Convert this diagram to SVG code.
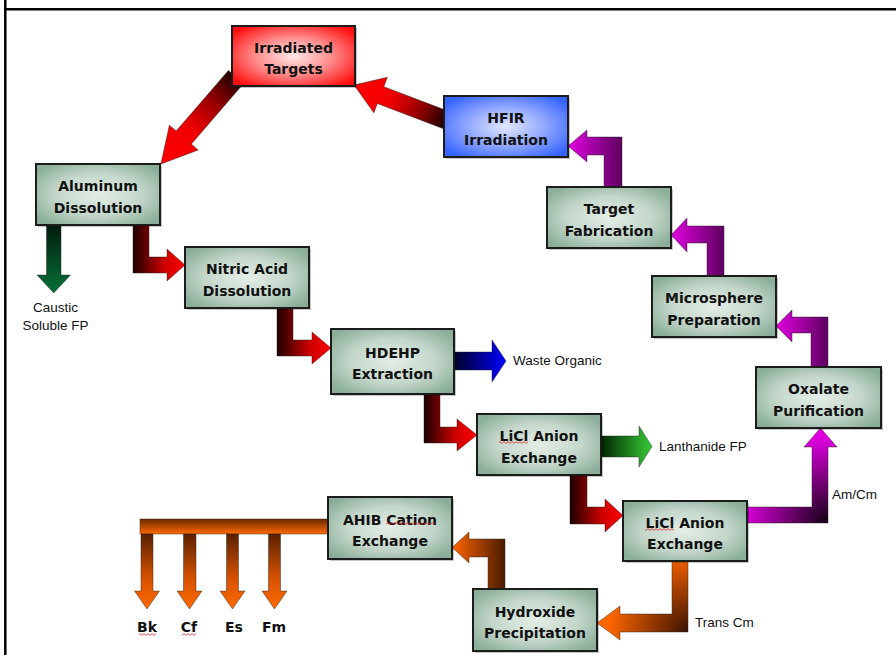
<svg xmlns="http://www.w3.org/2000/svg" width="896" height="655" viewBox="0 0 896 655">
<defs>
  <radialGradient id="gNode" cx="0.5" cy="0.5" r="0.62">
    <stop offset="0" stop-color="#e4ede7"/>
    <stop offset="0.55" stop-color="#c4d7cb"/>
    <stop offset="1" stop-color="#8aae99"/>
  </radialGradient>
  <radialGradient id="gRed" cx="0.5" cy="0.5" r="0.62">
    <stop offset="0" stop-color="#ffe8e8"/>
    <stop offset="0.5" stop-color="#ff8c8c"/>
    <stop offset="1" stop-color="#ff1010"/>
  </radialGradient>
  <radialGradient id="gBlue" cx="0.5" cy="0.5" r="0.62">
    <stop offset="0" stop-color="#e2e8ff"/>
    <stop offset="0.5" stop-color="#93a9ff"/>
    <stop offset="1" stop-color="#3563ff"/>
  </radialGradient>
  <linearGradient id="gRedArrow" x1="0" y1="0" x2="1" y2="0">
    <stop offset="0" stop-color="#1e0000"/>
    <stop offset="0.6" stop-color="#cc0000"/>
    <stop offset="1" stop-color="#ff0000"/>
  </linearGradient>
  <linearGradient id="gRedBig" x1="0" y1="0" x2="1" y2="0">
    <stop offset="0" stop-color="#200000"/>
    <stop offset="0.3" stop-color="#9a0000"/>
    <stop offset="0.6" stop-color="#f00000"/>
    <stop offset="1" stop-color="#ff0000"/>
  </linearGradient>
  <linearGradient id="gGreenDown" x1="0" y1="0" x2="0" y2="1">
    <stop offset="0" stop-color="#001a0c"/>
    <stop offset="1" stop-color="#077038"/>
  </linearGradient>
  <linearGradient id="gBlueArrow" x1="0" y1="0" x2="1" y2="0">
    <stop offset="0" stop-color="#000028"/>
    <stop offset="1" stop-color="#0000ff"/>
  </linearGradient>
  <linearGradient id="gGreenArrow" x1="0" y1="0" x2="1" y2="0">
    <stop offset="0" stop-color="#002200"/>
    <stop offset="1" stop-color="#36cc36"/>
  </linearGradient>
  <linearGradient id="gMagLeft" x1="0" y1="0" x2="1" y2="0">
    <stop offset="0" stop-color="#e000e0"/>
    <stop offset="1" stop-color="#5e005e"/>
  </linearGradient>
  <radialGradient id="gMagRad" gradientUnits="userSpaceOnUse" cx="828" cy="523" r="85">
    <stop offset="0" stop-color="#120012"/>
    <stop offset="1" stop-color="#dd00dd"/>
  </radialGradient>
  <radialGradient id="gOrRad" gradientUnits="userSpaceOnUse" cx="688" cy="632" r="80">
    <stop offset="0" stop-color="#3a1200"/>
    <stop offset="1" stop-color="#ff6600"/>
  </radialGradient>
  <linearGradient id="gOrLeft" x1="0" y1="0" x2="1" y2="0">
    <stop offset="0" stop-color="#ff6600"/>
    <stop offset="1" stop-color="#4a1a00"/>
  </linearGradient>
  <linearGradient id="gOrDown" x1="0" y1="0" x2="0" y2="1">
    <stop offset="0" stop-color="#5a2000"/>
    <stop offset="0.6" stop-color="#d85200"/>
    <stop offset="1" stop-color="#ff6a00"/>
  </linearGradient>
  <linearGradient id="gOrBar" x1="0" y1="0" x2="0" y2="1">
    <stop offset="0" stop-color="#6a2800"/>
    <stop offset="1" stop-color="#ff6a00"/>
  </linearGradient>
  <pattern id="squig" patternUnits="userSpaceOnUse" x="0" y="0" width="4" height="3">
    <path d="M0,0.6 L2,2.4 L4,0.6" fill="none" stroke="#e02020" stroke-width="0.8"/>
  </pattern>
  <style>
    .arr { stroke: #222; stroke-opacity: 0.55; stroke-width: 0.8; stroke-linejoin: miter; }
    .box { stroke: #1c1c1c; stroke-width: 2; }
    .shadow { fill: #000; opacity: 0.22; }
    .nt { font-family: "DejaVu Sans", Verdana, sans-serif; font-weight: bold; font-size: 14px; fill: #111; text-anchor: middle; }
    .lbl { font-family: "Liberation Sans", Arial, sans-serif; font-size: 13.5px; fill: #111; }
    .frame { stroke: #000; stroke-width: 2.5; fill: none; }
  </style>
</defs>

<rect x="0" y="0" width="896" height="655" fill="#fff"/>
<line class="frame" x1="5.3" y1="0" x2="5.3" y2="655"/>
<line class="frame" x1="4" y1="9.2" x2="896" y2="9.2"/>

<g id="connectors">
  <!-- Irradiated Targets -> Aluminum Dissolution -->
  <g transform="translate(236,77) rotate(130.77)">
    <polygon class="arr" fill="url(#gRedBig)" points="0,-10 80,-10 80,-19 115,0 80,19 80,10 0,10"/>
  </g>
  <!-- HFIR -> Irradiated Targets -->
  <g transform="translate(446,120) rotate(-159.17)">
    <polygon class="arr" fill="url(#gRedBig)" points="0,-9 70,-9 70,-19 98.4,0 70,19 70,9 0,9"/>
  </g>
  <!-- Aluminum -> Nitric -->
  <polygon class="arr" fill="url(#gRedArrow)" points="133,224 149,224 149,257 167,257 167,249 185,265 167,281 167,273 133,273"/>
  <!-- Nitric -> HDEHP -->
  <polygon class="arr" fill="url(#gRedArrow)" points="277,307 293,307 293,340 312,340 312,332 331,348 312,364 312,356 277,356"/>
  <!-- HDEHP -> LiCl 1 -->
  <polygon class="arr" fill="url(#gRedArrow)" points="424,393 440,393 440,427 457,427 457,419 477,435 457,451 457,443 424,443"/>
  <!-- LiCl 1 -> LiCl 2 -->
  <polygon class="arr" fill="url(#gRedArrow)" points="570,474 587,474 587,507 605,507 605,499 623,515.5 605,532 605,524 570,524"/>
  <!-- Aluminum -> Caustic Soluble FP -->
  <polygon class="arr" fill="url(#gGreenDown)" points="46.5,224 61,224 61,275 70.5,275 53.75,293 37,275 46.5,275"/>
  <!-- HDEHP -> Waste Organic -->
  <polygon class="arr" fill="url(#gBlueArrow)" points="454,352 492,352 492,340 506,361 492,382 492,370 454,370"/>
  <!-- LiCl 1 -> Lanthanide FP -->
  <polygon class="arr" fill="url(#gGreenArrow)" points="600,436 639,436 639,426 652,446.5 639,467 639,457 600,457"/>
  <!-- LiCl 2 -> Oxalate (Am/Cm) -->
  <polygon class="arr" fill="url(#gMagRad)" points="746,507 812,507 812,447 804,447 820.5,428 837,447 828,447 828,523 746,523"/>
  <!-- Oxalate -> Microsphere -->
  <polygon class="arr" fill="url(#gMagLeft)" points="828,368 811,368 811,333 792,333 792,342 776,326 792,310 792,317 828,317"/>
  <!-- Microsphere -> Target Fabrication -->
  <polygon class="arr" fill="url(#gMagLeft)" points="724,277 707,277 707,243 687,243 687,252 671,235 687,218 687,226 724,226"/>
  <!-- Target Fabrication -> HFIR -->
  <polygon class="arr" fill="url(#gMagLeft)" points="622,188 604,188 604,155 587,155 587,162 568,146 587,130 587,137 622,137"/>
  <!-- LiCl 2 -> Hydroxide (Trans Cm) -->
  <polygon class="arr" fill="url(#gOrRad)" points="672,560 688,560 688,632 620,632 620,640 597,623 620,606 620,614 672,614"/>
  <!-- Hydroxide -> AHIB -->
  <polygon class="arr" fill="url(#gOrLeft)" points="505,590 488,590 488,557 469,557 469,563 452,547.5 469,532 469,539 505,539"/>
  <!-- AHIB distribution bar and outputs -->
  <rect class="arr" fill="url(#gOrBar)" x="140" y="519" width="189" height="15"/>
  <polygon class="arr" fill="url(#gOrDown)" points="141,534 153,534 153,591 159.5,591 147,609 134.5,591 141,591"/>
  <polygon class="arr" fill="url(#gOrDown)" points="183.5,534 196,534 196,591 202,591 189.5,609 177,591 183.5,591"/>
  <polygon class="arr" fill="url(#gOrDown)" points="226.5,534 238.5,534 238.5,591 245,591 232.5,609 220,591 226.5,591"/>
  <polygon class="arr" fill="url(#gOrDown)" points="268.5,534 280.5,534 280.5,591 287,591 274.5,609 262,591 268.5,591"/>
</g>

<g id="n-irradiated">
  <rect class="shadow" x="234" y="28" width="123" height="60"/>
  <rect class="box" fill="url(#gRed)" x="232" y="26" width="123" height="60"/>
  <text class="nt" x="293.5" y="52.5">Irradiated</text>
  <text class="nt" x="293.5" y="74">Targets</text>
</g>
<g id="n-hfir">
  <rect class="shadow" x="446" y="98" width="124" height="61"/>
  <rect class="box" fill="url(#gBlue)" x="444" y="96" width="124" height="61"/>
  <text class="nt" x="506" y="123">HFIR</text>
  <text class="nt" x="506" y="144.5">Irradiation</text>
</g>
<g id="n-aluminum">
  <rect class="shadow" x="38" y="166" width="124" height="61"/>
  <rect class="box" fill="url(#gNode)" x="36" y="164" width="124" height="61"/>
  <text class="nt" x="98" y="191">Aluminum</text>
  <text class="nt" x="98" y="212.5">Dissolution</text>
</g>
<g id="n-nitric">
  <rect class="shadow" x="187" y="249" width="124" height="61"/>
  <rect class="box" fill="url(#gNode)" x="185" y="247" width="124" height="61"/>
  <text class="nt" x="247" y="274">Nitric Acid</text>
  <text class="nt" x="247" y="295.5">Dissolution</text>
</g>
<g id="n-hdehp">
  <rect class="shadow" x="333" y="331" width="123" height="65"/>
  <rect class="box" fill="url(#gNode)" x="331" y="329" width="123" height="65"/>
  <text class="nt" x="392.5" y="357.5">HDEHP</text>
  <text class="nt" x="392.5" y="379">Extraction</text>
</g>
<g id="n-licl1">
  <rect class="shadow" x="479" y="416" width="124" height="61"/>
  <rect class="box" fill="url(#gNode)" x="477" y="414" width="124" height="61"/>
  <text class="nt" x="539" y="441">LiCl Anion</text>
  <text class="nt" x="539" y="462.5">Exchange</text>
  <rect x="499" y="441" width="29" height="3" fill="url(#squig)"/>
</g>
<g id="n-licl2">
  <rect class="shadow" x="625" y="503" width="124" height="60"/>
  <rect class="box" fill="url(#gNode)" x="623" y="501" width="124" height="60"/>
  <text class="nt" x="685" y="527.5">LiCl Anion</text>
  <text class="nt" x="685" y="549">Exchange</text>
  <rect x="645" y="528" width="29" height="3" fill="url(#squig)"/>
</g>
<g id="n-oxalate">
  <rect class="shadow" x="758" y="369" width="125" height="61"/>
  <rect class="box" fill="url(#gNode)" x="756" y="367" width="125" height="61"/>
  <text class="nt" x="818.5" y="394">Oxalate</text>
  <text class="nt" x="818.5" y="415.5">Purification</text>
</g>
<g id="n-microsphere">
  <rect class="shadow" x="654" y="278" width="124" height="61"/>
  <rect class="box" fill="url(#gNode)" x="652" y="276" width="124" height="61"/>
  <text class="nt" x="714" y="303">Microsphere</text>
  <text class="nt" x="714" y="324.5">Preparation</text>
</g>
<g id="n-target">
  <rect class="shadow" x="549" y="189" width="124" height="61"/>
  <rect class="box" fill="url(#gNode)" x="547" y="187" width="124" height="61"/>
  <text class="nt" x="609" y="214">Target</text>
  <text class="nt" x="609" y="235.5">Fabrication</text>
</g>
<g id="n-hydroxide">
  <rect class="shadow" x="475" y="591" width="124" height="62"/>
  <rect class="box" fill="url(#gNode)" x="473" y="589" width="124" height="62"/>
  <text class="nt" x="535" y="616.5">Hydroxide</text>
  <text class="nt" x="535" y="638">Precipitation</text>
</g>
<g id="n-ahib">
  <rect class="shadow" x="330" y="499" width="124" height="62"/>
  <rect class="box" fill="url(#gNode)" x="328" y="497" width="124" height="62"/>
  <text class="nt" x="390" y="524.5">AHIB Cation</text>
  <text class="nt" x="390" y="546">Exchange</text>
  <rect x="386" y="522" width="49" height="3" fill="url(#squig)"/>
</g>

<g id="labels">
  <text class="lbl" x="55.5" y="311.5" text-anchor="middle">Caustic</text>
  <text class="lbl" x="55.5" y="330" text-anchor="middle">Soluble FP</text>
  <text class="lbl" x="513" y="364.5">Waste Organic</text>
  <text class="lbl" x="659" y="450.5">Lanthanide FP</text>
  <text class="lbl" x="832" y="499">Am/Cm</text>
  <text class="lbl" x="695" y="627">Trans Cm</text>
  <text class="nt" x="147" y="632">Bk</text>
  <text class="nt" x="189" y="632">Cf</text>
  <text class="nt" x="234" y="632">Es</text>
  <text class="nt" x="274" y="632">Fm</text>
  <rect x="139" y="633" width="17" height="3" fill="url(#squig)"/>
  <rect x="182" y="633" width="14" height="3" fill="url(#squig)"/>
</g>
</svg>
